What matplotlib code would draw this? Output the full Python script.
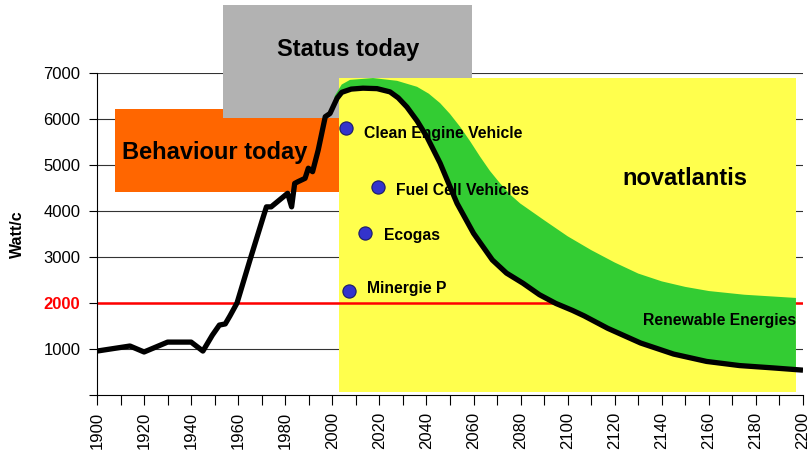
import numpy as np
import matplotlib
matplotlib.use("Agg")
import matplotlib.pyplot as plt
from matplotlib.patches import Rectangle

plt.rcParams['font.family'] = ['Liberation Sans', 'DejaVu Sans']

# energy use per capita (Watt/c), history + novatlantis path
years = [1900, 1914, 1920, 1930, 1940, 1945, 1949, 1952, 1954.5, 1956.5,
         1959.5, 1965, 1970.7, 1972, 1974, 1981, 1982.7, 1984, 1985.5, 1988.4,
         1989.8, 1991.6, 1994, 1997, 1999, 2002, 2004, 2008, 2013, 2019,
         2024.5, 2028, 2031.7, 2036, 2040.2, 2045.8, 2049, 2053, 2060, 2068,
         2074, 2081, 2088, 2095, 2102, 2107, 2117, 2131, 2145, 2159, 2173,
         2187, 2200]
watt = [955, 1065, 935, 1150, 1150, 955, 1300, 1520, 1545, 1720,
        2000, 2935, 3880, 4090, 4090, 4385, 4090, 4600, 4640, 4710,
        4930, 4855, 5325, 6050, 6120, 6450, 6580, 6650, 6670, 6660,
        6590, 6460, 6260, 5960, 5610, 5040, 4650, 4165, 3515, 2935,
        2650, 2430, 2180, 1990, 1840, 1720, 1450, 1130, 890, 730, 640,
        590, 540]

# renewable energies band
green_up_years = [2001, 2004, 2007.5, 2017.3, 2027.5, 2036, 2041, 2045.8,
                  2050, 2054.3, 2058.5, 2062.8, 2067, 2071.3, 2075.5, 2079.8,
                  2090, 2100, 2110, 2120, 2130, 2140, 2150, 2160, 2175, 2197]
green_up = [6500, 6750, 6850, 6890, 6830, 6700, 6550, 6345,
            6110, 5830, 5520, 5180, 4870, 4600, 4360, 4165,
            3800, 3450, 3150, 2880, 2640, 2470, 2350, 2260, 2180, 2110]
green_lo_years = [2001, 2004, 2008, 2013, 2019, 2024.5, 2028, 2031.7, 2036,
                  2040.2, 2045.8, 2049, 2053, 2060, 2068, 2074, 2081, 2088,
                  2095, 2102, 2107, 2117, 2131, 2145, 2159, 2173, 2187, 2197]
green_lo = [6400, 6580, 6650, 6670, 6660, 6590, 6460, 6260, 5960,
            5610, 5040, 4650, 4165, 3515, 2935, 2650, 2430, 2180,
            1990, 1840, 1720, 1450, 1130, 890, 730, 640, 590, 560]

dot_years = [2005.8, 2019.4, 2013.9, 2007.1]
dot_vals = [5800, 4520, 3520, 2260]
labels = ['Clean Engine Vehicle', 'Fuel Cell Vehicles', 'Ecogas', 'Minergie P']
label_years = [2013.6, 2027.1, 2022, 2014.9]
label_vals = [5690, 4440, 3460, 2320]

target = 2000

fig = plt.figure(figsize=(8.09, 4.59), dpi=100)
ax = fig.add_axes([97 / 809, 64 / 459, 706 / 809, 322 / 459])
ax.set_xlim(1900, 2200)
ax.set_ylim(0, 7000)

# background boxes
ax.add_patch(Rectangle((1907.6, 4413), 2002.7 - 1907.6, 6217 - 4413,
                       facecolor='#ff6600', edgecolor='none', zorder=1))
ax.add_patch(Rectangle((1953.5, 6020), 2059.4 - 1953.5, 8478 - 6020,
                       facecolor='#b2b2b2', edgecolor='none', zorder=1.1,
                       clip_on=False))
ax.add_patch(Rectangle((2002.7, 72), 2197 - 2002.7, 6890 - 72,
                       facecolor='#ffff4d', edgecolor='none', zorder=1.2))

for v in range(1000, 8000, 1000):
    ax.axhline(v, color='#333333', lw=0.8, zorder=0.5)
ax.axhline(target, color='#ff0000', lw=1.8, zorder=1.5)

gx = green_up_years + green_lo_years[::-1]
gy = green_up + green_lo[::-1]
ax.fill(gx, gy, color='#33cc33', lw=0, zorder=2)

ax.plot(years, watt, color='black', lw=3.8, solid_joinstyle='round',
        solid_capstyle='butt', zorder=3)

ax.plot(dot_years, dot_vals, 'o', ms=9.5, mfc='#3333cc', mec='#1a1a66',
        mew=0.8, zorder=4)
for t, x, y in zip(labels, label_years, label_vals):
    ax.text(x, y, t, fontsize=11.3, fontweight='bold', ha='left', va='center',
            zorder=5)

ax.text(2132.2, 1630, 'Renewable Energies', fontsize=11.3, fontweight='bold',
        ha='left', va='center', zorder=5)
ax.text(2149.6, 4710, 'novatlantis', fontsize=17, fontweight='bold',
        ha='center', va='center', zorder=5)
ax.text(1949.9, 5280, 'Behaviour today', fontsize=17, fontweight='bold',
        ha='center', va='center', zorder=5)
ax.text(2006.5, 7515, 'Status today', fontsize=17, fontweight='bold',
        ha='center', va='center', zorder=5, clip_on=False)

# axes styling
for s in ['top', 'right']:
    ax.spines[s].set_visible(False)
ax.spines['left'].set_zorder(6)
ax.spines['bottom'].set_zorder(6)

ax.set_yticks(range(0, 8000, 1000))
ylabels = ['' if v == 0 else str(v) for v in range(0, 8000, 1000)]
ax.set_yticklabels(ylabels, fontsize=12)
for lbl, v in zip(ax.get_yticklabels(), range(0, 8000, 1000)):
    if v == target:
        lbl.set_color('#ff0000')
        lbl.set_fontweight('bold')
ax.tick_params(axis='y', length=6, width=0.8, pad=6)

ax.set_xticks(range(1900, 2201, 20))
ax.set_xticks(range(1910, 2200, 20), minor=True)
ax.set_xticklabels([str(y) for y in range(1900, 2201, 20)], rotation=90,
                   fontsize=12)
ax.tick_params(axis='x', which='both', length=7, width=0.8, pad=5)

ax.set_ylabel('Watt/c', fontsize=11.5, fontweight='bold', labelpad=13)

fig.savefig('out.png', dpi=100)
